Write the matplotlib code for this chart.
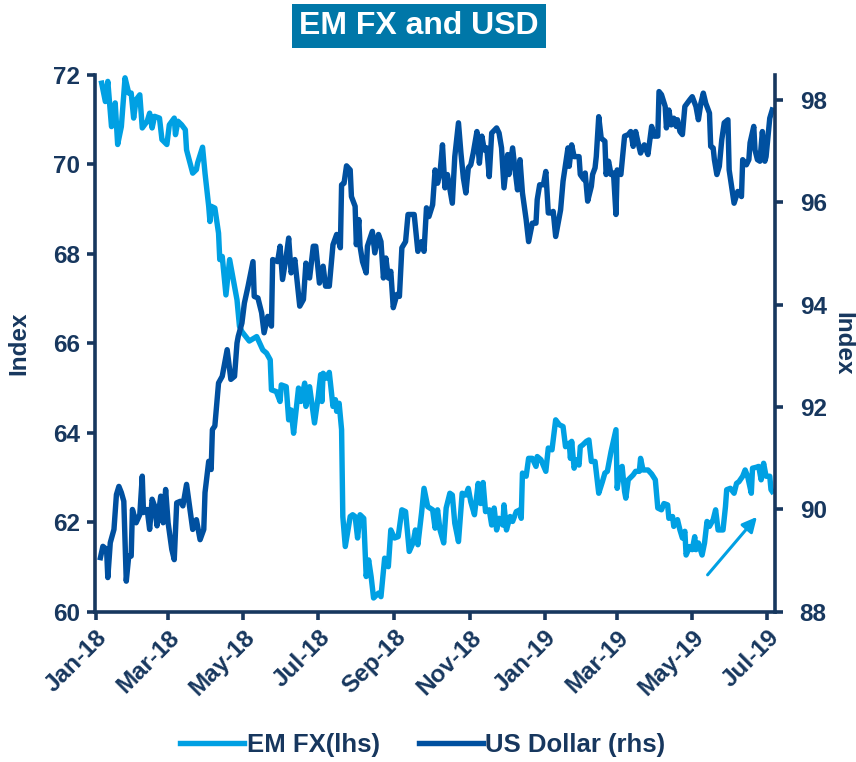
import numpy as np
import pandas as pd
import matplotlib
matplotlib.use("Agg")
import matplotlib.pyplot as plt
import matplotlib.dates as mdates

# EM FX index (lhs), days counted from 1 Jan 2018
emfx_days = [5, 8, 10, 13, 16, 18, 21, 24, 27, 29, 31, 33, 36, 38, 42, 44, 46, 48, 52, 54,
             58, 60, 64, 65, 67, 70, 73, 74, 79, 82, 83, 87, 89, 92, 93, 94, 97, 100, 101, 103,
             106, 109, 111, 115, 117, 119, 125, 131, 136, 139, 142, 143, 147, 150, 151, 155, 157, 159, 161, 165,
             167, 170, 171, 174, 178, 181, 183, 184, 185, 188, 190, 193, 195, 196, 198, 200, 201, 203, 207, 209,
             211, 213, 215, 218, 220, 222, 224, 226, 230, 232, 235, 238, 240, 243, 246, 249, 252, 255, 258, 260,
             262, 265, 267, 270, 274, 276, 278, 280, 283, 285, 288, 290, 292, 295, 298, 301, 303, 305, 308, 311,
             313, 315, 317, 320, 322, 324, 326, 328, 331, 332, 334, 337, 339, 342, 345, 346, 347, 350, 352, 355,
             358, 359, 362, 366, 368, 371, 374, 377, 380, 382, 385, 386, 387, 389, 391, 393, 394, 396, 399, 401,
             403, 406, 409, 412, 414, 416, 419, 423, 424, 426, 428, 430, 431, 433, 437, 439, 442, 443, 445, 449,
             452, 455, 457, 460, 462, 465, 466, 469, 470, 473, 475, 477, 479, 480, 483, 485, 487, 488, 490, 493,
             495, 497, 499, 502, 504, 506, 510, 512, 513, 516, 519, 521, 523, 526, 528, 530, 533, 534, 537, 539,
             541, 543, 545, 548, 549, 550]
emfx = [71.81, 71.40, 71.85, 70.84, 71.37, 70.44, 70.84, 71.93, 71.59, 71.59, 71.03, 71.44, 71.55, 70.81, 70.96, 71.14, 70.81, 71.07, 71.03, 70.55,
        70.44, 70.88, 71.03, 70.66, 70.96, 70.88, 70.77, 70.32, 69.80, 69.88, 70.03, 70.38, 69.80, 69.06, 68.72, 69.06, 69.02, 68.46, 67.87, 67.94,
        67.08, 67.87, 67.57, 66.97, 66.38, 66.26, 66.05, 66.15, 65.85, 65.78, 65.63, 64.96, 64.92, 64.70, 65.07, 65.03, 64.29, 64.51, 63.99, 65.00,
        64.70, 65.11, 64.59, 65.03, 64.22, 64.81, 65.30, 64.70, 65.33, 65.22, 65.35, 64.59, 64.74, 64.48, 64.66, 64.07, 62.13, 61.46, 62.13, 62.17,
        62.13, 61.65, 62.17, 62.09, 60.79, 61.16, 60.79, 60.31, 60.42, 60.34, 61.20, 61.01, 61.83, 61.65, 61.68, 62.28, 62.24, 61.35, 61.54, 61.83,
        61.50, 62.21, 62.76, 62.35, 62.28, 61.87, 62.28, 61.83, 61.54, 62.32, 62.65, 62.61, 61.98, 61.57, 62.65, 62.61, 62.76, 62.46, 62.17, 62.87,
        62.42, 62.89, 62.24, 62.28, 61.94, 62.32, 61.83, 62.09, 61.94, 62.39, 61.83, 62.13, 62.02, 62.24, 62.28, 62.09, 63.10, 63.03, 63.43, 63.43,
        63.25, 63.47, 63.40, 63.14, 63.66, 63.62, 64.29, 64.18, 64.14, 63.69, 63.77, 63.43, 63.81, 63.21, 63.40, 63.28, 63.69, 63.73, 63.81, 63.84,
        63.36, 63.36, 62.65, 62.91, 63.10, 63.14, 63.58, 64.07, 62.76, 63.17, 63.25, 62.69, 62.54, 62.95, 63.06, 63.14, 63.14, 63.43, 63.17, 63.17,
        63.08, 62.95, 62.32, 62.28, 62.42, 62.39, 62.09, 62.13, 61.91, 62.06, 61.83, 61.65, 61.80, 61.27, 61.46, 61.39, 61.68, 61.39, 61.54, 61.27,
        61.54, 62.02, 61.91, 62.06, 62.28, 61.83, 61.83, 62.35, 62.73, 62.76, 62.65, 62.87, 62.91, 63.03, 63.17, 63.03, 62.65, 63.21, 63.23, 63.25,
        62.95, 63.32, 63.03, 63.03, 62.73, 62.69]

# US Dollar index (rhs), days counted from 1 Jan 2018
usd_days = [4, 6, 9, 10, 12, 15, 17, 19, 21, 23, 25, 27, 29, 30, 33, 36, 38, 39, 42, 44,
            46, 48, 50, 53, 55, 57, 59, 62, 64, 66, 69, 71, 74, 77, 79, 82, 85, 88, 89, 92,
            94, 95, 97, 100, 103, 107, 110, 113, 115, 116, 119, 121, 124, 128, 129, 132, 135, 137, 140, 143,
            144, 148, 150, 152, 155, 157, 159, 162, 166, 169, 171, 174, 177, 179, 182, 185, 187, 190, 193, 196,
            199, 200, 202, 204, 207, 208, 211, 212, 214, 215, 217, 220, 221, 225, 227, 230, 232, 234, 236, 238,
            240, 242, 245, 247, 249, 252, 254, 257, 259, 262, 265, 267, 269, 271, 274, 276, 278, 280, 282, 284,
            286, 290, 292, 295, 297, 299, 301, 303, 305, 307, 310, 312, 314, 316, 318, 320, 322, 326, 328, 330,
            332, 335, 336, 339, 341, 343, 345, 347, 350, 352, 355, 358, 359, 361, 364, 366, 368, 370, 372, 374,
            376, 378, 380, 384, 385, 387, 389, 393, 394, 397, 398, 400, 403, 404, 406, 407, 409, 411, 414, 415,
            417, 419, 421, 423, 424, 427, 430, 433, 435, 437, 439, 441, 443, 446, 449, 452, 454, 457, 458, 460,
            463, 464, 466, 468, 470, 472, 473, 475, 477, 479, 483, 485, 488, 490, 492, 494, 496, 499, 500, 502,
            503, 505, 507, 509, 511, 514, 515, 517, 519, 522, 525, 526, 529, 531, 532, 535, 536, 538, 540, 542,
            544, 545, 548, 550]
usd = [89.06, 89.28, 89.22, 88.67, 89.35, 89.61, 90.29, 90.45, 90.33, 90.16, 88.60, 89.09, 89.09, 90.00, 89.74, 89.90, 90.65, 89.94, 90.00, 89.61,
       90.20, 90.07, 89.68, 90.26, 89.74, 90.39, 89.74, 89.22, 89.02, 90.13, 90.16, 90.07, 90.49, 89.97, 89.61, 89.80, 89.41, 89.61, 90.33, 90.94,
       90.78, 91.56, 91.63, 92.47, 92.60, 93.12, 92.54, 92.60, 93.25, 93.38, 93.64, 94.03, 94.36, 94.84, 94.16, 94.13, 93.84, 93.45, 93.77, 93.58,
       94.88, 94.84, 95.14, 94.49, 94.94, 95.30, 94.62, 94.88, 93.97, 94.10, 94.81, 94.52, 95.14, 95.14, 94.42, 94.75, 94.36, 94.36, 95.17, 95.37,
       95.11, 96.34, 96.37, 96.71, 96.63, 96.11, 95.92, 95.17, 95.66, 95.14, 94.84, 94.62, 95.14, 95.43, 95.01, 95.37, 95.23, 94.52, 94.91, 94.52,
       94.65, 93.94, 94.20, 94.16, 95.11, 95.23, 95.76, 95.76, 95.76, 95.04, 95.23, 95.04, 95.89, 95.72, 95.95, 96.63, 96.37, 96.57, 97.12, 96.28,
       96.54, 95.98, 96.89, 97.55, 96.96, 96.47, 96.18, 96.67, 96.73, 96.96, 97.38, 96.76, 97.29, 97.02, 97.06, 96.50, 97.35, 97.45, 97.35, 97.06,
       96.28, 96.93, 96.54, 97.06, 96.63, 96.24, 96.83, 96.18, 95.66, 95.23, 95.59, 95.59, 96.05, 96.34, 96.34, 96.60, 95.79, 95.79, 95.82, 95.33,
       95.59, 95.85, 96.41, 97.06, 96.70, 97.12, 96.89, 96.89, 96.54, 96.44, 96.57, 96.02, 96.31, 96.54, 96.67, 96.89, 97.67, 97.25, 97.19, 96.54,
       96.80, 96.54, 96.57, 95.76, 96.63, 96.54, 97.29, 97.32, 97.38, 97.09, 97.38, 97.16, 96.96, 97.12, 96.93, 97.48, 97.29, 97.29, 98.16, 98.10,
       97.87, 97.45, 97.80, 97.51, 97.64, 97.48, 97.61, 97.38, 97.32, 97.87, 98.00, 98.06, 97.87, 97.61, 97.93, 98.13, 97.93, 97.74, 97.09, 97.06,
       96.83, 96.54, 96.70, 97.22, 97.55, 97.61, 96.63, 96.31, 95.98, 96.21, 96.11, 96.83, 96.73, 96.83, 97.16, 97.48, 97.02, 96.83, 96.80, 97.38,
       96.80, 96.89, 97.64, 97.80]

start = pd.Timestamp("2018-01-01")
emfx_dates = start + pd.to_timedelta(emfx_days, unit="D")
usd_dates = start + pd.to_timedelta(usd_days, unit="D")

navy = "#17375E"
light_blue = "#00A0E3"
dark_blue = "#0050A0"

plt.rcParams["font.family"] = ["Liberation Sans", "DejaVu Sans"]
plt.rcParams["font.weight"] = "bold"

fig = plt.figure(figsize=(8.56, 7.62), dpi=100)
ax = fig.add_axes([0.111, 0.197, 0.794, 0.705])
ax2 = ax.twinx()

l1, = ax.plot(emfx_dates, emfx, color=light_blue, lw=3.9, solid_joinstyle="round",
              label="EM FX(lhs)")
l2, = ax2.plot(usd_dates, usd, color=dark_blue, lw=3.9, solid_joinstyle="round",
               label="US Dollar (rhs)")

ax.set_xlim(start - pd.Timedelta(days=0.4), start + pd.Timedelta(days=552))
ax.set_ylim(60, 72)
ax2.set_ylim(88, 98.49)
ax.set_yticks(np.arange(60, 73, 2))
ax2.set_yticks(np.arange(88, 99, 2))

ax.xaxis.set_major_locator(mdates.MonthLocator(bymonth=[1, 3, 5, 7, 9, 11]))
ax.xaxis.set_major_formatter(mdates.DateFormatter("%b-%y"))

for a in (ax, ax2):
    a.spines["top"].set_visible(False)
    for side in ("left", "right", "bottom"):
        a.spines[side].set_color(navy)
        a.spines[side].set_linewidth(2.6)
    a.tick_params(colors=navy, labelsize=17.5, width=2.6, length=6)
ax.spines["right"].set_visible(False)
ax2.spines["left"].set_visible(False)
ax2.spines["bottom"].set_visible(False)

ax.tick_params(axis="x", pad=4)
ax.tick_params(axis="y", pad=5)
ax2.tick_params(axis="y", pad=12)
for lab in ax.get_xticklabels():
    lab.set_rotation(45)
    lab.set_ha("right")
    lab.set_rotation_mode("anchor")

ax.set_ylabel("Index", fontsize=17.5, color=navy, fontweight="bold", labelpad=16)
ax2.set_ylabel("Index", fontsize=17.5, color=navy, fontweight="bold", rotation=270,
               labelpad=20)

# arrow marking the recent EM FX recovery
ax.annotate("", xy=(start + pd.Timedelta(days=539), 62.17),
            xytext=(start + pd.Timedelta(days=496), 60.78),
            arrowprops=dict(arrowstyle="-|>", color=light_blue, lw=2.2,
                            mutation_scale=22))

fig.text(0.4895, 0.966, "EM FX and USD", ha="center", va="center", fontsize=23,
         fontweight="bold", color="white",
         bbox=dict(boxstyle="square,pad=0.22", facecolor="#0077A8", edgecolor="none"))

fig.legend(handles=[l1, l2], loc="center", bbox_to_anchor=(0.494, 0.022), ncol=2,
           frameon=False, fontsize=18.5, labelcolor=navy, handlelength=2.5,
           handletextpad=0.1, columnspacing=1.5)

fig.savefig("out.png", dpi=100)
